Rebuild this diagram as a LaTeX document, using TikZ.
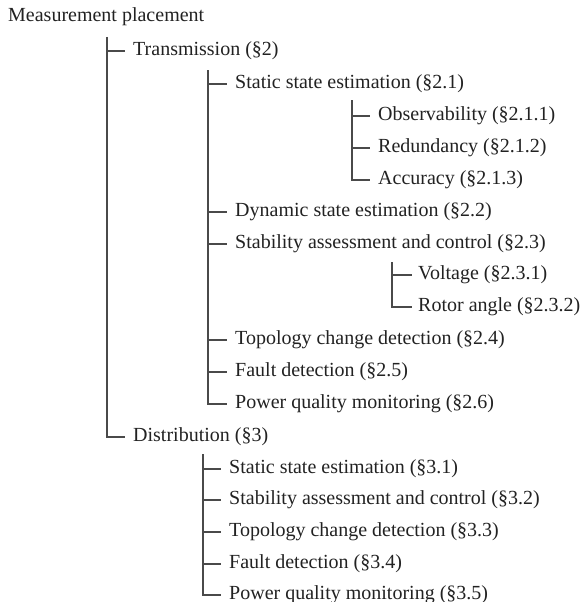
\documentclass[tikz,border=0pt]{standalone}
\usepackage{fontspec}
\setmainfont{Liberation Serif}
\definecolor{txt}{HTML}{222222}
\definecolor{ln}{HTML}{4A4A4A}
\begin{document}
\begin{tikzpicture}[x=1pt,y=-1pt,
  lbl/.style={anchor=west,inner sep=0pt,text height=13pt,text depth=4pt,text=txt,font=\fontsize{20}{24}\selectfont},
  br/.style={draw=ln,line width=1.2pt}]
\useasboundingbox[fill=white] (0,-2) rectangle (586,600);
% nodes
\node[lbl] (root) at (8,15) {Measurement placement};
\node[lbl] (trans) at (133,49) {Transmission (§2)};
\node[lbl] (s21) at (235,82) {Static state estimation (§2.1)};
\node[lbl] (s211) at (378,114) {Observability (§2.1.1)};
\node[lbl] (s212) at (378,146) {Redundancy (§2.1.2)};
\node[lbl] (s213) at (378,178) {Accuracy (§2.1.3)};
\node[lbl] (s22) at (235,210) {Dynamic state estimation (§2.2)};
\node[lbl] (s23) at (235,242) {Stability assessment and control (§2.3)};
\node[lbl] (s231) at (418,273) {Voltage (§2.3.1)};
\node[lbl] (s232) at (418,305) {Rotor angle (§2.3.2)};
\node[lbl] (s24) at (235,338) {Topology change detection (§2.4)};
\node[lbl] (s25) at (235,370) {Fault detection (§2.5)};
\node[lbl] (s26) at (235,402) {Power quality monitoring (§2.6)};
\node[lbl] (dist) at (133,435) {Distribution (§3)};
\node[lbl] (s31) at (229,467) {Static state estimation (§3.1)};
\node[lbl] (s32) at (229,498) {Stability assessment and control (§3.2)};
\node[lbl] (s33) at (229,530) {Topology change detection (§3.3)};
\node[lbl] (s34) at (229,562) {Fault detection (§3.4)};
\node[lbl] (s35) at (229,593) {Power quality monitoring (§3.5)};
% branch tops
\coordinate (t1) at (107,35);
\coordinate (t2) at (208,68);
\coordinate (t3) at (352,98);
\coordinate (t4) at (392,260);
\coordinate (t5) at (203,452);
% level 1
\draw[br] (t1) |- ([xshift=-8pt]dist.west);
\draw[br] (t1 |- trans.west) -- ([xshift=-8pt]trans.west);
% transmission children
\draw[br] (t2) |- ([xshift=-8pt]s26.west);
\foreach \n in {s21,s22,s23,s24,s25}
  \draw[br] (t2 |- \n.west) -- ([xshift=-8pt]\n.west);
% static state estimation children
\draw[br] (t3) |- ([xshift=-8pt]s213.west);
\foreach \n in {s211,s212}
  \draw[br] (t3 |- \n.west) -- ([xshift=-8pt]\n.west);
% stability children
\draw[br] (t4) |- ([xshift=-6pt]s232.west);
\draw[br] (t4 |- s231.west) -- ([xshift=-6pt]s231.west);
% distribution children
\draw[br] (t5) |- ([xshift=-8pt]s35.west);
\foreach \n in {s31,s32,s33,s34}
  \draw[br] (t5 |- \n.west) -- ([xshift=-8pt]\n.west);
\end{tikzpicture}
\end{document}
